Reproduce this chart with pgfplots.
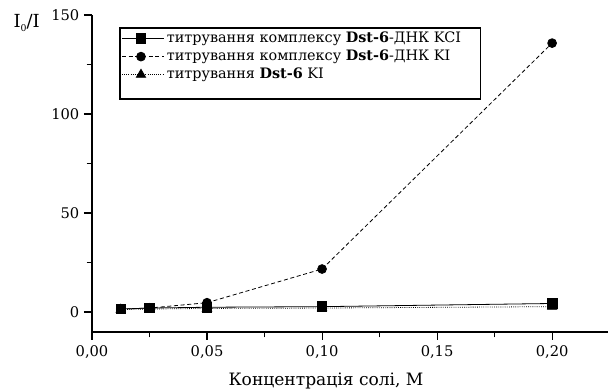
\documentclass[border=0pt]{standalone}
\usepackage{fontspec}
\setmainfont{DejaVu Serif}
\usepackage{pgfplots}
\pgfplotsset{compat=1.18}
\begin{document}
\begin{tikzpicture}
\begin{axis}[
  at={(0,0)}, anchor=south west,
  scale only axis, width=387pt, height=237.75pt,
  xmin=0, xmax=0.2243, ymin=-10.1, ymax=150,
  axis lines=left, axis line style={-, line width=0.8pt},
  tick style={black, line width=0.8pt},
  tick align=outside,
  major tick length=6pt, minor tick length=4pt,
  xtick={0,0.05,0.10,0.15,0.20},
  xticklabels={{0,00},{0,05},{0,10},{0,15},{0,20}},
  minor xtick={0.025,0.075,0.125,0.175},
  ytick={0,50,100,150},
  minor ytick={25,75,125},
  /pgf/number format/assume math mode=true,
  ticklabel style={font=\fontsize{11pt}{13pt}\selectfont},
  xticklabel style={yshift=-1pt},
  xlabel={Концентрація солі, М},
  xlabel style={font=\fontsize{12.8pt}{15pt}\selectfont, at={(axis description cs:0.5,0)}, anchor=north, yshift=-27pt, xshift=-18pt},
  ylabel={I\raisebox{-0.35ex}{\fontsize{7pt}{8pt}\selectfont 0}/I},
  ylabel style={font=\fontsize{13.5pt}{15pt}\selectfont, rotate=-90, at={(axis description cs:0,1)}, anchor=center, xshift=-49pt, yshift=-6pt},
  legend style={at={(rel axis cs:0.0543,0.959)}, anchor=north west, draw=none, fill=none,
     font=\fontsize{10.8pt}{12pt}\selectfont, inner ysep=1pt, inner xsep=1pt, row sep=0pt,
     legend cell align=left},
  legend image code/.code={
     \draw[#1] (0cm,0cm) -- (1.1cm,0cm);
     \draw[#1, solid, only marks] plot coordinates {(0.5cm,0cm)};},
  clip=false,
]
\draw[black, line width=0.8pt] (rel axis cs:0.0543,0.959) rectangle (rel axis cs:0.752,0.735);
\addplot[black, line width=0.6pt, mark=square*, mark size=3.6pt, mark options={solid}]
  coordinates {(0.0125,1.5) (0.025,2.0) (0.05,2.4) (0.10,2.7) (0.20,4.3)};
\addlegendentry{титрування комплексу \textbf{Dst-6}-ДНК KCI}
\addplot[black, line width=0.6pt, densely dashed, mark=*, mark size=3.3pt, mark options={solid}]
  coordinates {(0.0125,1.5) (0.025,2.0) (0.05,4.7) (0.10,21.7) (0.20,135.8)};
\addlegendentry{титрування комплексу \textbf{Dst-6}-ДНК KI}
\addplot[black, line width=0.6pt, densely dotted, mark=triangle*, mark size=4pt, mark options={solid}]
  coordinates {(0.0125,1.2) (0.025,1.5) (0.05,1.8) (0.10,2.0) (0.20,2.7)};
\addlegendentry{титрування \textbf{Dst-6} KI}
\end{axis}
\pgfresetboundingbox
\path[use as bounding box] (-69pt,-45pt) rectangle (388.5pt,249pt);
\end{tikzpicture}
\end{document}
